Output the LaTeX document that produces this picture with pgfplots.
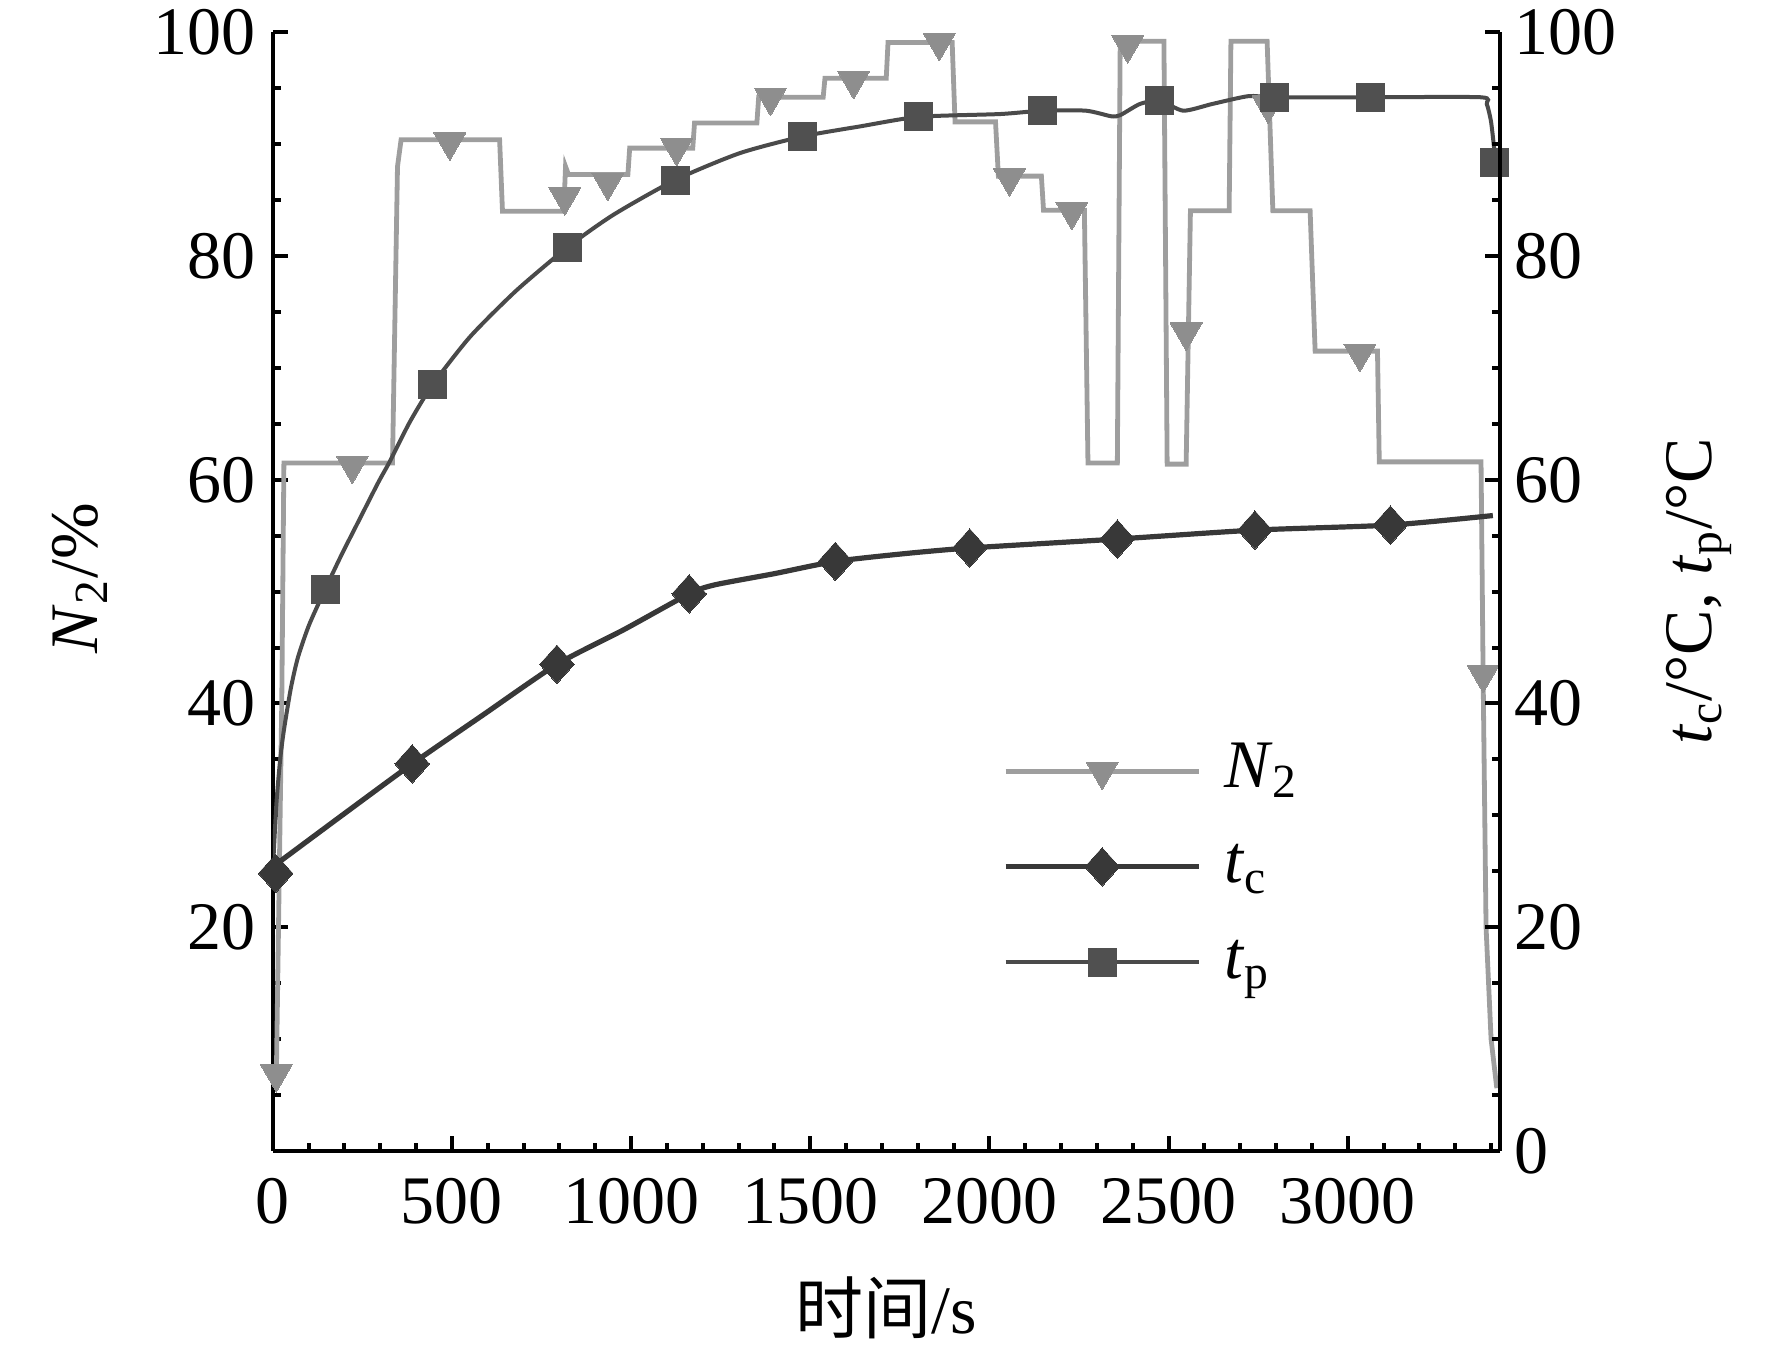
\documentclass[border=0pt]{standalone}
\usepackage{fontspec}
\setmainfont{Liberation Serif}
\newfontfamily\cjk{Noto Sans CJK SC}
\usepackage{pgfplots}
\pgfplotsset{compat=1.18}
\usepackage{pgfplotstable}

\definecolor{n2c}{HTML}{9E9E9E}
\definecolor{n2m}{HTML}{8E8E8E}
\definecolor{tcc}{HTML}{383838}
\definecolor{tpc}{HTML}{4A4A4A}
\definecolor{tpm}{HTML}{505050}

\pgfplotstableread{
t v
0 6.5
10 6.9
25 40
31 61.5
334 61.5
348 88
358 90.4
633 90.4
641 84.0
812 84.0
817 88.0
825 87.3
991 87.3
996 89.65
1172 89.65
1177 91.9
1351 91.9
1356 94.2
1536 94.2
1541 95.9
1712 95.9
1717 99.1
1896 99.1
1904 92.0
2017 92.0
2025 87.15
2145 87.15
2151 84.1
2265 84.1
2275 61.5
2357 61.5
2365 99.2
2487 99.2
2496 61.4
2549 61.4
2561 84.05
2669 84.05
2674 99.2
2775 99.2
2791 84.05
2895 84.05
2909 71.5
3083 71.5
3088 61.6
3372 61.6
3378 42
3386 20
3400 10
3416 5.6
}\nline

\pgfplotstableread{
t v
10 6.9
222 61.3
494 90.2
815 85.3
935 86.6
1127 89.7
1389 94.2
1621 95.7
1860 99.1
2056 87.0
2230 84.0
2386 98.9
2549 73.2
2778 93.5
3034 71.3
3378 42.6
}\nmarks

\pgfplotstableread{
t v
0 25.4
185 29.8
389 34.6
588 39.0
793 43.5
980 46.6
1162 49.8
1233 50.6
1399 51.6
1570 52.7
1765 53.4
1945 53.9
2357 54.7
2741 55.5
3119 55.95
3405 56.8
}\tcline

\pgfplotstableread{
t v
8 24.8
389 34.6
793 43.5
1162 49.8
1570 52.7
1945 53.9
2357 54.7
2741 55.5
3119 55.95
}\tcmarks

\pgfplotstableread{
t v
0 25
10 31
20 34.8
30 37.4
50 41.3
70 44.1
101 47.0
146 50.2
192 53.3
241 56.4
295 59.8
326 61.6
383 65.2
446 68.5
551 72.8
679 76.9
823 80.8
951 83.7
1123 86.8
1303 89.2
1479 90.7
1640 91.6
1803 92.45
2030 92.7
2148 93.0
2269 93.0
2340 92.5
2365 92.6
2420 93.6
2475 93.9
2541 93.0
2622 93.6
2723 94.3
2795 94.2
3063 94.2
3371 94.2
3388 93.6
3400 92.0
3409 89.5
}\tpline

\pgfplotstableread{
t v
146 50.2
446 68.5
823 80.8
1123 86.8
1479 90.7
1803 92.45
2148 93.0
2475 93.9
2795 94.2
3063 94.2
3409 88.4
}\tpmarks

\pgfplotsset{
  common/.style={
    width=306.8pt, height=279.6pt, scale only axis,
    at={(0,0)}, anchor=south west,
    xmin=0, xmax=3425, ymin=0, ymax=100,
    axis line style={line width=1pt, black},
    tick style={line width=1pt, black},
    major tick length=3.75pt, minor tick length=2pt,
    tick align=inside,
    /pgf/number format/assume math mode=true,
    /pgf/number format/1000 sep={},
  },
  n2l/.style={color=n2c, line width=1.2pt},
  n2mk/.style={mark=triangle*, mark size=4.6pt, mark options={rotate=180, fill=n2m, draw=n2m, line width=0pt, solid}},
  tcl/.style={color=tcc, line width=1.3pt},
  tcmk/.style={mark=diamond*, mark size=4.8pt, mark options={xscale=1.2, fill=tcc, draw=tcc, line width=0pt, solid}},
  tpl/.style={color=tpc, line width=1.0pt},
  tpmk/.style={mark=square*, mark size=3.5pt, mark options={fill=tpm, draw=tpm, line width=0pt, solid}},
}

\begin{document}
\begin{tikzpicture}[font=\fontsize{17pt}{20pt}\selectfont]
\useasboundingbox (-68.2pt,-49.3pt) rectangle (374.8pt,287.7pt);
\begin{axis}[common,
  axis x line*=bottom, axis y line*=left,
  xtick={0,500,...,3000}, minor xtick={100,200,...,3400},
  ytick={20,40,...,100}, minor ytick={5,10,...,95},
  xticklabel style={yshift=-3.4pt},
  yticklabel style={xshift=-0.8pt},
  xlabel={{\cjk 时间}/s},
  xlabel style={at={(axis description cs:0.5,0)}, yshift=-39.3pt, anchor=center},
  ylabel={\textit{N}\textsubscript{2}/\%},
  ylabel style={at={(axis description cs:-0.157,0.512)}, anchor=center},
  legend style={at={(axis description cs:0.595,0.368)}, anchor=north west,
    draw=none, fill=none, inner sep=0pt, outer sep=0pt,
    row sep=7.9pt, column sep=5.75pt,
    nodes={inner sep=0pt, text height=12pt, text depth=4pt}},
  legend cell align=left,
  legend image code/.code={\draw[mark repeat=2,mark phase=2,#1] plot coordinates {(0pt,0pt) (24.15pt,0pt) (48.3pt,0pt)};},
]
\addlegendimage{n2l, n2mk}
\addlegendentry{\textit{N}\textsubscript{2}}
\addlegendimage{tcl, tcmk}
\addlegendentry{\textit{t}\textsubscript{c}}
\addlegendimage{tpl, tpmk}
\addlegendentry{\textit{t}\textsubscript{p}}

\addplot[n2l, no marks, forget plot] table[x=t,y=v] {\nline};
\addplot[only marks, n2mk, forget plot] table[x=t,y=v] {\nmarks};
\addplot[tcl, no marks, smooth, tension=0.4, forget plot] table[x=t,y=v] {\tcline};
\addplot[only marks, tcmk, forget plot] table[x=t,y=v] {\tcmarks};
\addplot[tpl, no marks, smooth, tension=0.4, forget plot] table[x=t,y=v] {\tpline};
\addplot[only marks, tpmk, forget plot] table[x=t,y=v] {\tpmarks};
\end{axis}
\begin{axis}[common,
  axis x line=none, axis y line*=right,
  ytick={0,20,...,100}, minor ytick={5,10,...,95},
  ylabel={\textit{t}\textsubscript{c}/°C, \textit{t}\textsubscript{p}/°C},
  ylabel style={at={(axis description cs:1.162,0.5)}, anchor=center},
]
\addplot[draw=none, forget plot] coordinates {(0,0)};
\end{axis}
\end{tikzpicture}
\end{document}
